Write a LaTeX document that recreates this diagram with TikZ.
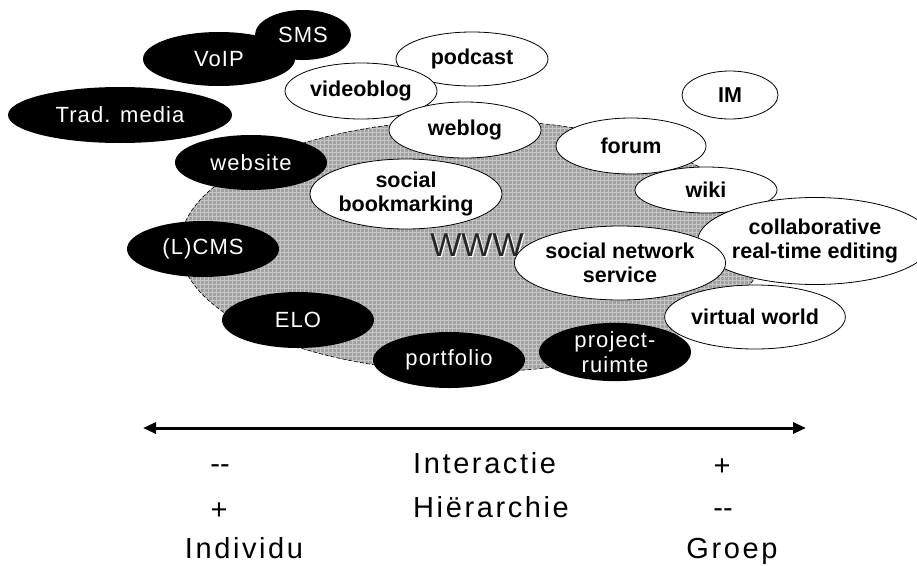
\documentclass[tikz,border=0pt]{standalone}
\usepackage{fontspec}
\setmainfont{Liberation Sans}
\newfontfamily\wfont[LetterSpace=5]{Liberation Sans}
\newfontfamily\axfont[LetterSpace=9]{Liberation Sans}
\usetikzlibrary{shapes.geometric,arrows.meta}
\begin{document}
\begin{tikzpicture}[x=1pt,y=-1pt,
  sz/.style 2 args={minimum width=#1, minimum height=#2},
  blk/.style={ellipse, fill=black, text=white, inner sep=0pt, align=center,
    font=\wfont\fontsize{22}{25}\selectfont},
  wht/.style={ellipse, draw=black, line width=0.8pt, fill=white, inner sep=0pt, align=center,
    font=\bfseries\fontsize{21.5}{24.5}\selectfont},
  axis/.style={font=\axfont\fontsize{29}{34}\selectfont, inner sep=0pt},
  wwwtxt/.style={font=\fontsize{33}{36}\selectfont, inner sep=0pt}
]
\useasboundingbox (0,0) rectangle (917,565);
\fill[white] (0,0) rectangle (917,565);

% WWW blob
\begin{scope}
  \clip (472,246) ellipse [x radius=292, y radius=126];
  \fill[gray!74] (160,100) rectangle (780,390);
  \draw[gray!45, line width=0.5pt, step=4pt] (160,100) grid (780,390);
\end{scope}
\draw[dash pattern=on 4pt off 2pt, line width=0.6pt] (472,246) ellipse [x radius=292, y radius=126];

\node[wwwtxt, text=white] at (478.2,246.2) {WWW};
\node[wwwtxt, text=black!85] (www) at (477,245) {WWW};

% black ellipses
\node[blk, sz={96pt}{50pt}] (sms) at (303,35) {SMS};
\node[blk, sz={152pt}{54pt}] (voip) at (219,59) {VoIP};
\node[blk, sz={224pt}{56pt}] (trad) at (120,115) {Trad. media};
\node[blk, sz={152pt}{55pt}] (website) at (251,162.5) {website};
\node[blk, sz={152pt}{56pt}] (lcms) at (203,249) {(L)CMS};
\node[blk, sz={152pt}{56pt}] (elo) at (298,320) {ELO};
\node[blk, sz={152pt}{56pt}] (portfolio) at (449,360) {portfolio};
\node[blk, sz={152pt}{56pt}] (project) at (615,352) {project-\\ruimte};

% white ellipses
\node[wht, sz={152pt}{54pt}] (podcast) at (472,59) {podcast};
\node[wht, sz={152pt}{56pt}] (videoblog) at (361,91) {videoblog};
\node[wht, sz={152pt}{56pt}] (weblog) at (465,130) {weblog};
\node[wht, sz={192pt}{70pt}] (socbook) at (406,194) {social\\bookmarking};
\node[wht, sz={96pt}{48pt}] (im) at (730,95) {IM};
\node[wht, sz={150pt}{56pt}] (forum) at (631,146) {forum};
\node[wht, sz={142pt}{46pt}] (wiki) at (706,190) {wiki};
\node[wht, sz={204pt}{87pt}] (collab) at (815,241) {collaborative\\real-time editing};
\node[wht, sz={190pt}{74pt}] (sns) at (620,263) {social network\\service};
\node[wht, sz={176pt}{64pt}] (virtual) at (755,317) {virtual world};

% axis arrow
\coordinate (aL) at (143,428);
\coordinate (aR) at (806,428);
\draw[line width=3pt, {Triangle[length=13pt,width=11pt]}-{Triangle[length=13pt,width=11pt]}] (aL) -- (aR);

% axis labels
\node[axis, anchor=base] (m1) at (220,473) {\hbox{-}\hbox{-}};
\node[axis, anchor=base west] (inter) at (413,473) {Interactie};
\node[axis, anchor=base] (p1) at (722,475) {+};
\node[axis, anchor=base] (p2) at (219,519) {+};
\node[axis, anchor=base west] (hier) at (413,517) {Hiërarchie};
\node[axis, anchor=base] (m2) at (723,517) {\hbox{-}\hbox{-}};
\node[axis, anchor=base] (ind) at (244,558) {Individu};
\node[axis, anchor=base] (grp) at (732,558) {Groep};
\end{tikzpicture}
\end{document}
